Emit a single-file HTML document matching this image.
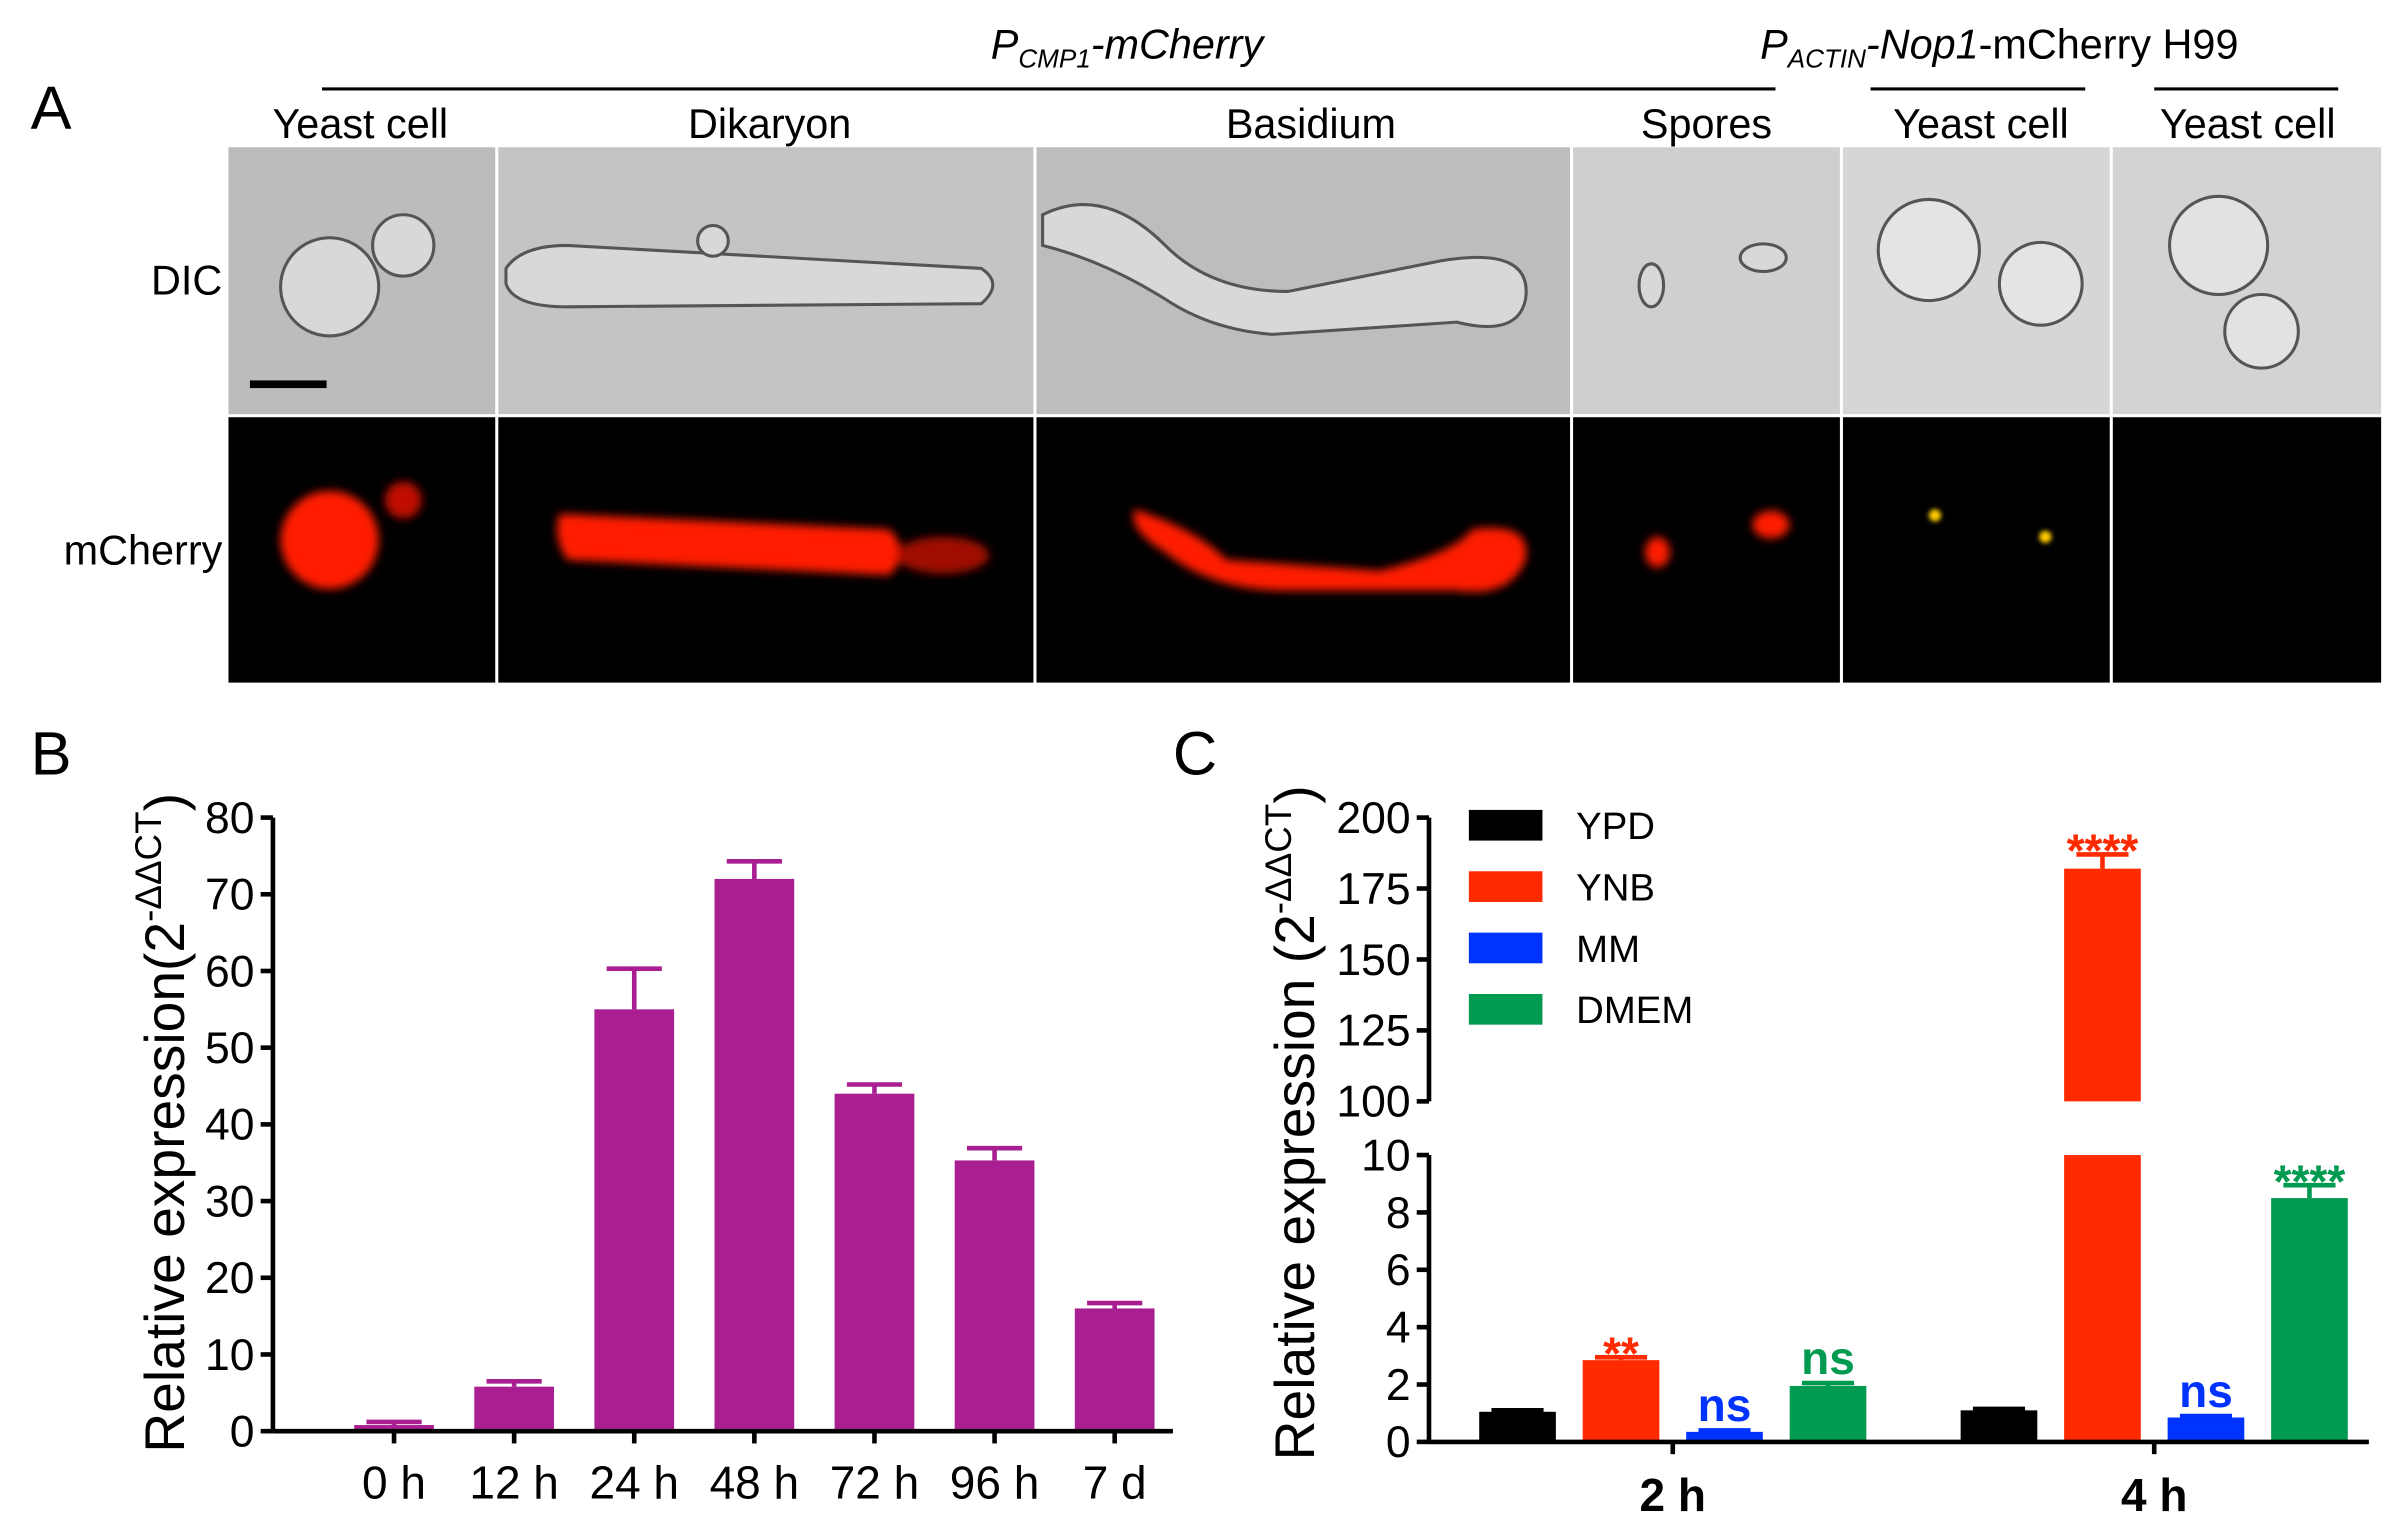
<!DOCTYPE html>
<html><head><meta charset="utf-8"><style>
html,body{margin:0;padding:0;background:#fff;}
svg{display:block;font-family:"Liberation Sans",Arial,sans-serif;}
</style></head><body>
<svg id="fig" width="2398" height="1537" viewBox="0 0 1564 1002" preserveAspectRatio="none" xmlns="http://www.w3.org/2000/svg">
<defs>
<filter id="blur" x="-50%" y="-50%" width="200%" height="200%"><feGaussianBlur stdDeviation="3"/></filter>
<filter id="blur2" x="-50%" y="-50%" width="200%" height="200%"><feGaussianBlur stdDeviation="1.5"/></filter>
</defs>
<rect width="1564" height="1002" fill="#fff"/>
<g>
<text x="20" y="84" font-size="40">A</text>
<line x1="210" y1="58" x2="1158" y2="58" stroke="#000" stroke-width="2"/>
<text x="735" y="38" font-size="27" font-style="italic" text-anchor="middle">P<tspan font-size="17" dy="6">CMP1</tspan><tspan dy="-6">-mCherry</tspan></text>
<line x1="1220" y1="58" x2="1360" y2="58" stroke="#000" stroke-width="2"/>
<line x1="1405" y1="58" x2="1525" y2="58" stroke="#000" stroke-width="2"/>
<text x="1148" y="38" font-size="27"><tspan font-style="italic">P</tspan><tspan font-size="17" dy="6" font-style="italic">ACTIN</tspan><tspan dy="-6" font-style="italic">-Nop1</tspan>-mCherry H99</text>
<g font-size="27" text-anchor="middle">
<text x="235" y="90">Yeast cell</text><text x="502" y="90">Dikaryon</text><text x="855" y="90">Basidium</text>
<text x="1113" y="90">Spores</text><text x="1292" y="90">Yeast cell</text><text x="1466" y="90">Yeast cell</text>
</g>
<text x="145" y="192" font-size="27" text-anchor="end">DIC</text>
<text x="145" y="368" font-size="27" text-anchor="end">mCherry</text>
<g>
<rect x="149" y="96" width="174" height="174" fill="#bcbcbc"/>
<rect x="325" y="96" width="349" height="174" fill="#c4c4c4"/>
<rect x="676" y="96" width="348" height="174" fill="#bdbdbd"/>
<rect x="1026" y="96" width="174" height="174" fill="#cfcfcf"/>
<rect x="1202" y="96" width="174" height="174" fill="#d6d6d6"/>
<rect x="1378" y="96" width="175" height="174" fill="#d3d3d3"/>
<g fill="#d8d8d8" stroke="#555" stroke-width="2">
<circle cx="215" cy="187" r="32"/><circle cx="263" cy="160" r="20"/>
<path d="M330 175 Q340 160 370 160 L640 175 Q655 185 640 198 L370 200 Q335 200 330 185Z"/>
<circle cx="465" cy="157" r="10"/>
<path d="M680 140 Q720 120 760 160 Q790 190 840 190 L940 170 Q1000 160 995 195 Q990 220 950 210 L830 218 Q790 215 760 195 Q720 170 680 160Z"/>
<ellipse cx="1077" cy="186" rx="8" ry="14"/><ellipse cx="1150" cy="168" rx="15" ry="9"/>
<circle cx="1258" cy="163" r="33" fill="#e4e4e4"/><circle cx="1331" cy="185" r="27" fill="#e4e4e4"/>
<circle cx="1447" cy="160" r="32" fill="#e2e2e2"/><circle cx="1475" cy="216" r="24" fill="#e2e2e2"/>
</g>
<rect x="163" y="248" width="50" height="5" fill="#000"/>
</g>
<g>
<rect x="149" y="272" width="174" height="173" fill="#000"/>
<rect x="325" y="272" width="349" height="173" fill="#000"/>
<rect x="676" y="272" width="348" height="173" fill="#000"/>
<rect x="1026" y="272" width="174" height="173" fill="#000"/>
<rect x="1202" y="272" width="174" height="173" fill="#000"/>
<rect x="1378" y="272" width="175" height="173" fill="#000"/>
<g fill="#ff1a00" filter="url(#blur)">
<circle cx="215" cy="352" r="32"/><circle cx="263" cy="326" r="12" fill="#c01000"/>
<path d="M365 335 L580 345 Q595 360 580 375 L370 365 Q360 350 365 335Z"/>
<ellipse cx="615" cy="362" rx="30" ry="12" fill="#a01000"/>
<path d="M740 332 Q780 345 800 365 L900 372 Q950 360 960 345 Q1000 340 995 365 Q985 390 950 385 L840 385 Q790 385 760 360 Q735 345 740 332Z"/>
<ellipse cx="1081" cy="360" rx="8" ry="10"/><ellipse cx="1155" cy="342" rx="12" ry="9"/>
</g>
<circle cx="1262" cy="336" r="4" fill="#ffcc00" filter="url(#blur2)"/>
<circle cx="1334" cy="350" r="4" fill="#ffcc00" filter="url(#blur2)"/>
</g>
</g>

<text x="20" y="505" font-size="40">B</text>
<g id="chartB"></g>
<text x="765" y="505" font-size="40">C</text>
<g id="chartC"></g>
</svg>
<script>
const bCategories = ["0 h","12 h","24 h","48 h","72 h","96 h","7 d"];
const bValues = [0.8, 5.8, 55, 72, 44, 35.3, 16];
const bErrors = [0.4, 0.7, 5.3, 2.3, 1.2, 1.6, 0.7];
const bTicks = [0,10,20,30,40,50,60,70,80];
const cGroups = ["2 h","4 h"];
const cSeries = ["YPD","YNB","MM","DMEM"];
const cYPD = [1.05, 1.1];
const cYNB = [2.85, 182];
const cMM = [0.35, 0.85];
const cDMEM = [1.95, 8.5];
const cErrYPD = [0.05, 0.05];
const cErrYNB = [0.1, 5];
const cErrMM = [0.05, 0.05];
const cErrDMEM = [0.1, 0.45];
const cSig2h = ["", "**", "ns", "ns"];
const cSig4h = ["", "****", "ns", "****"];
const cTicksLow = [0,2,4,6,8,10];
const cTicksHigh = [100,125,150,175,200];

const NS="http://www.w3.org/2000/svg";
function mk(parent,tag,attrs,text){const e=document.createElementNS(NS,tag);for(const k in attrs)e.setAttribute(k,attrs[k]);if(text!==undefined)e.textContent=text;parent.appendChild(e);return e;}

(function(){
const g=document.getElementById('chartB');
const x0=178,x1=765,y0=933,y1=533,vmax=80;
const y=v=>y0-(v/vmax)*(y0-y1);
const first=257,last=727;
const xc=i=>first+(last-first)*i/(bCategories.length-1);
const bw=52;
bCategories.forEach((c,i)=>{
  const top=y(bValues[i]+bErrors[i]);
  const eb=mk(g,'path',{d:`M${xc(i)} ${y(bValues[i])}V${top}M${xc(i)-bw/2+8} ${top}H${xc(i)+bw/2-8}`,stroke:'#a91f92','stroke-width':3,fill:'none'});
  
  
  const r=mk(g,'rect',{x:xc(i)-bw/2,y:y(bValues[i]),width:bw,height:y0-y(bValues[i]),fill:'#a91f92'});
  
  
  const t=mk(g,'text',{x:xc(i),y:977,'font-size':30,'text-anchor':'middle'},c);
  
  
  mk(g,'line',{x1:xc(i),y1:y0,x2:xc(i),y2:y0+8,stroke:'#000','stroke-width':3});
});
mk(g,'line',{x1:x0,y1:y1,x2:x0,y2:y0,stroke:'#000','stroke-width':3});
mk(g,'line',{x1:x0,y1:y0,x2:x1,y2:y0,stroke:'#000','stroke-width':3});
bTicks.forEach(v=>{
  mk(g,'line',{x1:x0-8,y1:y(v),x2:x0,y2:y(v),stroke:'#000','stroke-width':3});
  const t=mk(g,'text',{x:x0-12,y:y(v)+10,'font-size':29,'text-anchor':'end'},v);
  
  
});
const yl=mk(g,'text',{transform:'translate(120,732) rotate(-90)','font-size':36,'text-anchor':'middle'});


yl.innerHTML='Relative expression(2<tspan font-size="24" dy="-15">-ΔΔCT</tspan><tspan dy="15">)</tspan>';
})();

(function(){
const g=document.getElementById('chartC');
const x0=932,x1=1545,y0=940,yL10=753,yH100=718,yH200=533;
const y=v=>v<=10? y0-(v/10)*(y0-yL10) : yH100-((v-100)/100)*(yH100-yH200);
const colors=['#000','#ff2a00','#0033ff','#009a50'];
const vals=[cYPD,cYNB,cMM,cDMEM], errs=[cErrYPD,cErrYNB,cErrMM,cErrDMEM], sig=[cSig2h,cSig4h];
const gc=gi=>1091+gi*314;
const bw=50, sp=67.5;
const xc=(gi,si)=>gc(gi)+(si-1.5)*sp;
cGroups.forEach((gn,gi)=>{
  cSeries.forEach((s,si)=>{
    const v=vals[si][gi], e=errs[si][gi], cx=xc(gi,si);
    const top=y(v+e);
    const eb=mk(g,'path',{d:`M${cx} ${y(v)}V${top}M${cx-17} ${top}H${cx+17}`,stroke:colors[si],'stroke-width':3,fill:'none'});
    
    
    if(v>10){
      const r1=mk(g,'rect',{x:cx-bw/2,y:yL10,width:bw,height:y0-yL10,fill:colors[si]});
      
      
      const r2=mk(g,'rect',{x:cx-bw/2,y:y(v),width:bw,height:yH100-y(v),fill:colors[si]});
      
      
    } else {
      const r=mk(g,'rect',{x:cx-bw/2,y:y(v),width:bw,height:y0-y(v),fill:colors[si]});
      
      
    }
    const lab=sig[gi][si];
    if(lab){
      const ty=lab==='ns'? Math.min(top-6, y0-12) : top+8;
      const t=mk(g,'text',{x:cx,y:ty,'font-size':30,'font-weight':'bold','text-anchor':'middle',fill:colors[si]},lab);
      
      
    }
  });
  const t=mk(g,'text',{x:gc(gi),y:985,'font-size':30,'font-weight':'bold','text-anchor':'middle'},gn);
  
  
  mk(g,'line',{x1:gc(gi),y1:y0,x2:gc(gi),y2:y0+8,stroke:'#000','stroke-width':3});
});
mk(g,'line',{x1:x0,y1:yL10,x2:x0,y2:y0,stroke:'#000','stroke-width':3});
mk(g,'line',{x1:x0,y1:yH200,x2:x0,y2:yH100,stroke:'#000','stroke-width':3});
mk(g,'line',{x1:x0,y1:y0,x2:x1,y2:y0,stroke:'#000','stroke-width':3});
cTicksLow.concat(cTicksHigh).forEach(v=>{
  mk(g,'line',{x1:x0-8,y1:y(v),x2:x0,y2:y(v),stroke:'#000','stroke-width':3});
  const t=mk(g,'text',{x:x0-12,y:y(v)+10,'font-size':29,'text-anchor':'end'},v);
  
  
});
cSeries.forEach((s,si)=>{
  const sw=mk(g,'rect',{x:958,y:528+si*40,width:48,height:20,fill:colors[si]});
  
  
  const t=mk(g,'text',{x:1028,y:547+si*40,'font-size':25},s);
  
  
});
const yl=mk(g,'text',{transform:'translate(857,732) rotate(-90)','font-size':36,'text-anchor':'middle'});


yl.innerHTML='Relative expression (2<tspan font-size="24" dy="-15">-ΔΔCT</tspan><tspan dy="15">)</tspan>';
})();
</script>
</body></html>
